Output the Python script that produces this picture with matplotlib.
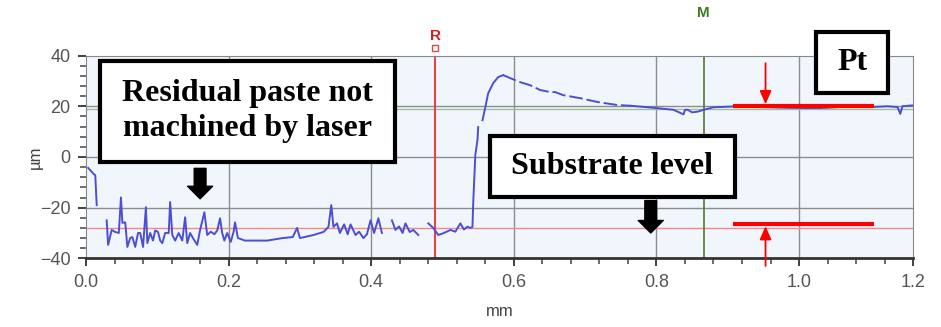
import numpy as np
import matplotlib
matplotlib.use('Agg')
import matplotlib.pyplot as plt
from matplotlib.patches import Rectangle

# profile trace (mm, um), NaN = missing points
profile_x = [0.003, 0.011, 0.013, 0.015, np.nan,
             0.029, 0.031, 0.036, 0.041, 0.046, 0.049, 0.051, 0.055, 0.058, 0.062,
             0.065, 0.069, 0.073, 0.076, 0.080, 0.084, 0.086, 0.090, 0.094, 0.097,
             0.101, 0.104, 0.107, 0.111, 0.116, 0.118, 0.121, 0.125, 0.130, 0.135,
             0.139, 0.142, 0.146, 0.150, 0.156, 0.160, 0.166, 0.170, 0.175, 0.180,
             0.184, 0.188, 0.191, 0.194, 0.198, 0.203, 0.207, 0.209, 0.213, 0.223,
             0.234, 0.254, 0.276, 0.290, 0.296, 0.300, 0.319, 0.333, 0.340, 0.344,
             0.347, 0.352, 0.356, 0.362, 0.367, 0.371, 0.378, 0.383, 0.389, 0.394,
             0.399, 0.404, 0.408, 0.410, 0.415, np.nan,
             0.429, 0.434, 0.439, 0.444, 0.448, 0.454, 0.459, 0.466, np.nan,
             0.480, 0.487, 0.494, 0.502, 0.511, 0.518, 0.525, 0.530, 0.535, 0.539,
             0.542, 0.543, 0.546, 0.549, 0.550, np.nan,
             0.556, 0.560, 0.564, 0.571, 0.578, 0.585]
profile_y = [-4.3, -6.8, -7.2, -19.0, np.nan,
             -25.0, -34.7, -28.8, -29.6, -30.0, -16.0, -26.0, -25.8, -35.5, -32.0,
             -31.6, -35.5, -30.0, -30.0, -35.5, -19.8, -34.0, -30.0, -33.0, -29.0,
             -29.6, -33.0, -34.0, -30.0, -30.0, -17.8, -30.8, -33.0, -30.0, -33.0,
             -23.8, -34.0, -30.0, -32.0, -34.7, -28.8, -21.8, -30.8, -29.5, -30.5,
             -29.0, -24.2, -30.0, -33.0, -30.0, -33.5, -29.5, -25.8, -32.0, -33.0,
             -33.0, -33.0, -32.0, -31.6, -28.0, -32.0, -30.8, -29.6, -27.6, -19.0,
             -27.6, -26.2, -30.0, -26.6, -30.5, -26.6, -30.8, -29.5, -32.0, -30.5,
             -25.0, -30.0, -26.2, -24.2, -30.0, np.nan,
             -25.0, -28.8, -27.4, -30.0, -26.2, -29.6, -28.8, -30.8, np.nan,
             -26.2, -28.0, -30.8, -30.0, -28.8, -29.5, -26.2, -28.6, -27.5, -28.0,
             -27.6, -18.2, 0.8, 6.7, 11.8, np.nan,
             14.5, 19.6, 25.1, 29.1, 31.5, 32.3]

# decaying part after the peak (drawn broken in the reference)
decay_x = [0.585, 0.595, 0.609, 0.623, 0.637, 0.651, 0.658, 0.669, 0.693, 0.717, 0.745, 0.764]
decay_y = [32.3, 31.1, 29.5, 28.3, 26.4, 25.6, 25.6, 24.4, 23.2, 21.7, 20.5, 20.2]

tail_x = [0.764, 0.796, 0.824, 0.838, 0.840, 0.844, 0.850, 0.858, 0.866, 0.880,
          0.914, 0.940, 0.960, 0.985, 1.006, 1.030, 1.050, 1.076, 1.100, 1.124,
          1.138, 1.142, 1.145, 1.161]
tail_y = [20.2, 19.4, 18.6, 16.8, 18.6, 18.6, 17.6, 17.9, 18.6, 19.6,
          20.0, 19.7, 19.6, 19.4, 19.3, 19.3, 19.6, 20.0, 19.7, 20.0,
          19.7, 17.0, 20.0, 20.4]

substrate_level = -28.0
mean_level = 18.8
r_cursor = 0.49
m_cursor = 0.866

pt_x = [0.908, 1.105]
pt_levels = [20.2, -26.5]
pt_arrow_x = 0.953

xticks = [0.0, 0.2, 0.4, 0.6, 0.8, 1.0, 1.16]
xticklabels = ['0.0', '0.2', '0.4', '0.6', '0.8', '1.0', '1.2']
yticks = [-40, -20, 0, 20, 40]

fig = plt.figure(figsize=(9.41, 3.27), dpi=100)
ax = fig.add_axes([0.0914, 0.210, 0.879, 0.620])
ax.set_facecolor('#f1f6fc')

ax.set_xlim(0, 1.16)
ax.set_ylim(-40, 40)
ax.set_xticks(xticks)
ax.set_xticklabels(xticklabels)
ax.set_yticks(yticks)
ax.set_xticks(np.arange(0, 1.161, 0.04), minor=True)
ax.set_yticks(np.arange(-40, 41, 4), minor=True)
ax.tick_params(which='major', length=6, width=1.3, color='#333333', labelsize=13,
               labelcolor='#555555', pad=5)
ax.tick_params(which='minor', length=4, width=1.1, color='#444444')
for lab in ax.get_xticklabels() + ax.get_yticklabels():
    lab.set_family('Liberation Sans')

for sp in ['left', 'top', 'right']:
    ax.spines[sp].set_color('#888888')
ax.spines['bottom'].set_color('#333333')
ax.spines['bottom'].set_linewidth(2)

for x in xticks[1:-1]:
    ax.axvline(x, color='#8c8c8c', lw=1, zorder=1)
for y in yticks[1:-1]:
    ax.axhline(y, color='#8c8c8c', lw=1, zorder=1)

ax.axhline(mean_level, color='#9fbf9a', lw=1, zorder=1)
ax.axhline(substrate_level, color='#f08a8a', lw=1, zorder=1)
ax.axvline(r_cursor, color='#e04848', lw=1.5, zorder=2)
ax.axvline(m_cursor, color='#4f7a30', lw=1.2, zorder=2)

ax.plot(profile_x, profile_y, color='#4c4fd4', lw=1.4, zorder=3)
ax.plot(decay_x, decay_y, color='#4c4fd4', lw=1.4, ls=(0, (7, 2)), zorder=3)
ax.plot(tail_x, tail_y, color='#4c4fd4', lw=1.4, zorder=3)

# cursor labels
ax.plot([r_cursor], [43], marker='s', ms=5, mfc='white', mec='#e04848', mew=1, clip_on=False)
ax.text(r_cursor, 47.6, 'R', color='#d42020', fontsize=11, fontweight='bold',
        ha='center', va='center', family='Liberation Sans')
ax.text(m_cursor, 57.0, 'M', color='#3d7a20', fontsize=11, fontweight='bold',
        ha='center', va='center', family='Liberation Sans')

ax.set_xlabel('mm', fontsize=12, color='#444444', labelpad=10, family='Liberation Sans')
ax.set_ylabel('µm', fontsize=12, color='#444444', labelpad=-2, family='Liberation Sans')

# Pt markers
for lev in pt_levels:
    ax.plot(pt_x, [lev, lev], color='#ff0000', lw=3, solid_capstyle='butt', zorder=5)
ax.annotate('', xy=(pt_arrow_x, pt_levels[0] + 0.6), xytext=(pt_arrow_x, 37),
            arrowprops=dict(arrowstyle='-|>,head_length=0.8,head_width=0.35', color='#ff0000',
                            lw=1.3, shrinkA=0, shrinkB=0), zorder=6)
ax.annotate('', xy=(pt_arrow_x, pt_levels[1] - 0.8), xytext=(pt_arrow_x, -43),
            arrowprops=dict(arrowstyle='-|>,head_length=0.8,head_width=0.35', color='#ff0000',
                            lw=1.3, shrinkA=0, shrinkB=0), annotation_clip=False, zorder=6)

# black block arrows
blk = dict(arrowstyle='simple,head_length=0.9,head_width=1.8,tail_width=0.85',
           fc='black', ec='black', shrinkA=0, shrinkB=0)
ax.annotate('', xy=(0.160, -16.5), xytext=(0.160, -4.5), arrowprops=blk, zorder=6)
ax.annotate('', xy=(0.792, -30.0), xytext=(0.792, -17.2), arrowprops=blk, zorder=6)

# text boxes
boxes = [
    ((0.1063, 0.5055), 0.3135, 0.309, 'Residual paste not\nmachined by laser'),
    ((0.5207, 0.3976), 0.2604, 0.1865, 'Substrate level'),
    ((0.8672, 0.7156), 0.0765, 0.1865, 'Pt'),
]
for (x0, y0), w, h, txt in boxes:
    fig.patches.append(Rectangle((x0, y0), w, h, transform=fig.transFigure,
                                 facecolor='white', edgecolor='black', lw=3,
                                 joinstyle='miter', zorder=5))
    fig.text(x0 + w / 2, y0 + h / 2, txt, ha='center', va='center', fontsize=23,
             fontweight='bold', family='Liberation Serif', linespacing=1.28, zorder=6)

fig.savefig('out.png', dpi=100)
